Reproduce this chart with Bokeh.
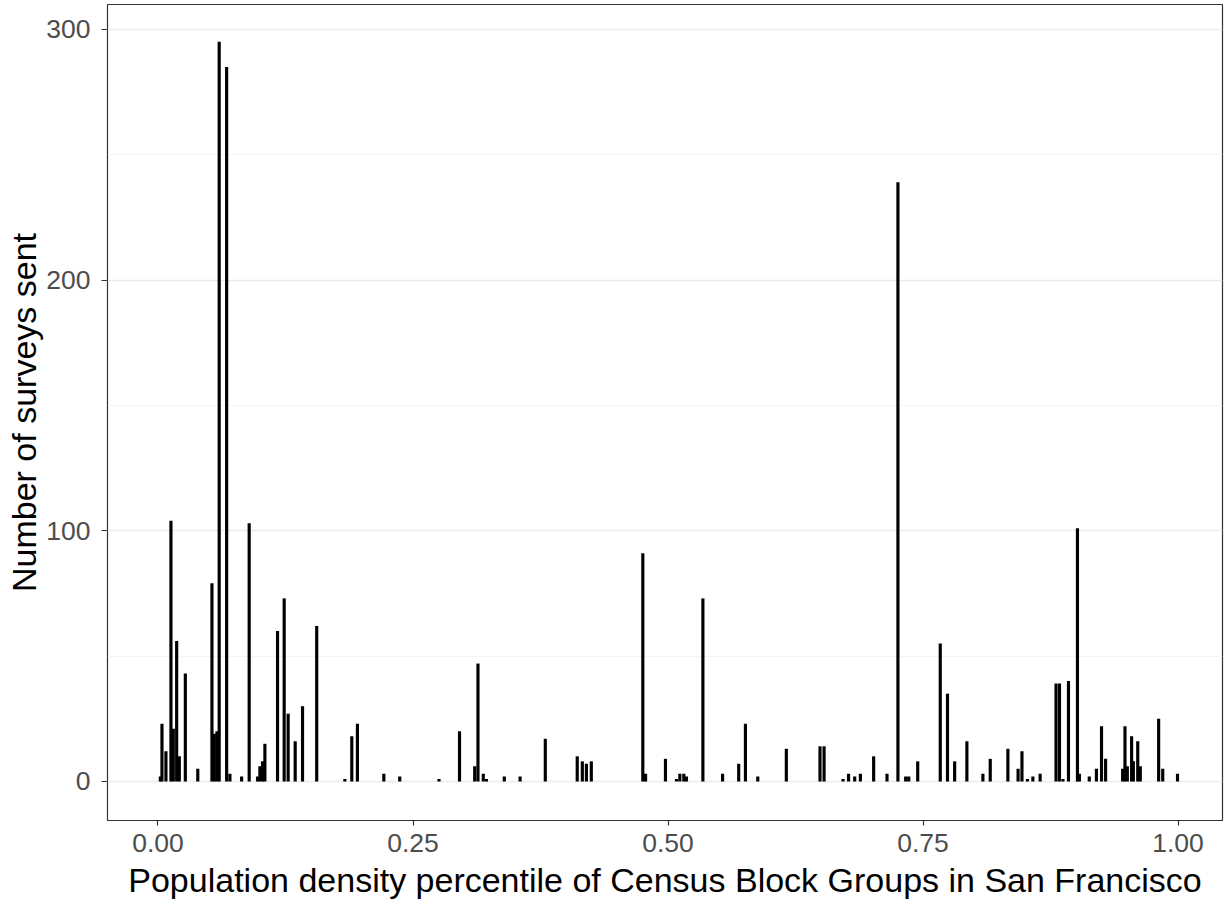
from bokeh.plotting import figure
from bokeh.models import Range1d, FixedTicker, ColumnDataSource
from bokeh.embed import file_html
from bokeh.resources import INLINE

# Population density percentile of each block group (x) and surveys sent (bar height)
percentile = [
    0.0023, 0.0039, 0.0078, 0.0127, 0.0150, 0.0183, 0.0209, 0.0268, 0.0390,
    0.0529, 0.0552, 0.0578, 0.0600, 0.0673, 0.0705, 0.0820, 0.0894, 0.0976,
    0.0999, 0.1025, 0.1048, 0.1172, 0.1237, 0.1276, 0.1345, 0.1417, 0.1556,
    0.1832, 0.1900, 0.1955, 0.2214, 0.2370, 0.2755, 0.2956, 0.3105, 0.3137,
    0.3189, 0.3220, 0.3395, 0.3550, 0.3797, 0.4110, 0.4160, 0.4200, 0.4248,
    0.4753, 0.4780, 0.4975, 0.5083, 0.5116, 0.5155, 0.5181, 0.5342, 0.5535,
    0.5693, 0.5759, 0.5880, 0.6160, 0.6490, 0.6530, 0.6716, 0.6770, 0.6830,
    0.6886, 0.7016, 0.7147, 0.7254, 0.7330, 0.7360, 0.7448, 0.7669, 0.7740,
    0.7810, 0.7930, 0.8087, 0.8159, 0.8332, 0.8432, 0.8470, 0.8524, 0.8577,
    0.8648, 0.8804, 0.8838, 0.8872, 0.8926, 0.9014, 0.9033, 0.9130, 0.9200,
    0.9250, 0.9290, 0.9457, 0.9480, 0.9503, 0.9545, 0.9562, 0.9605, 0.9630,
    0.9810, 0.9850, 0.9995,
]
surveys = [
    2, 23, 12, 104, 21, 56, 10, 43, 5,
    79, 19, 20, 295, 285, 3, 2, 103, 2,
    6, 8, 15, 60, 73, 27, 16, 30, 62,
    1, 18, 23, 3, 2, 1, 20, 6, 47,
    3, 1, 2, 2, 17, 10, 8, 7, 8,
    91, 3, 9, 1, 3, 3, 2, 73, 3,
    7, 23, 2, 13, 14, 14, 1, 3, 2,
    3, 10, 3, 239, 2, 2, 8, 55, 35,
    8, 16, 3, 9, 13, 5, 12, 1, 2,
    3, 39, 39, 1, 40, 101, 3, 2, 5,
    22, 9, 5, 22, 6, 18, 8, 16, 6,
    25, 5, 3,
]

x_ticks = [0.0, 0.25, 0.5, 0.75, 1.0]
x_tick_labels = ["0.00", "0.25", "0.50", "0.75", "1.00"]
y_ticks = [0, 100, 200, 300]
y_minor_ticks = [50, 150, 250]

x_title = "Population density percentile of Census Block Groups in San Francisco"
y_title = "Number of surveys sent"

src = ColumnDataSource(dict(x=percentile, top=surveys))

FONT = "Liberation Sans"

p = figure(
    width=1228, height=912,
    output_backend="svg", toolbar_location=None,
    x_range=Range1d(-0.0495, 1.0436), y_range=Range1d(-15.6, 309.9),
    min_border_left=107, min_border_right=6, min_border_top=4, min_border_bottom=92,
)

p.vbar(x="x", top="top", bottom=0, width=0.0031, source=src,
       fill_color="black", line_color=None)

p.background_fill_color = "white"
p.border_fill_color = "white"
p.outline_line_color = "#333333"
p.outline_line_width = 1.2

# grids
p.xgrid.grid_line_color = None
p.ygrid.grid_line_color = "#EBEBEB"
p.ygrid.grid_line_width = 1.3
p.ygrid.minor_grid_line_color = "#F0F0F0"
p.ygrid.minor_grid_line_width = 0.8

# x axis
p.xaxis.ticker = FixedTicker(ticks=x_ticks)
p.xaxis.major_label_overrides = {t: l for t, l in zip(x_ticks, x_tick_labels)}
p.xaxis.axis_label = x_title
p.xaxis.axis_label_text_font = FONT
p.xaxis.axis_label_text_font_size = "34px"
p.xaxis.axis_label_text_font_style = "normal"
p.xaxis.axis_label_text_color = "black"
p.xaxis.axis_label_standoff = 6
p.xaxis.major_label_text_font = FONT
p.xaxis.major_label_text_font_size = "26.5px"
p.xaxis.major_label_text_color = "#4D4D4D"
p.xaxis.major_label_standoff = 8
p.xaxis.major_tick_out = 5
p.xaxis.major_tick_in = 0
p.xaxis.minor_tick_line_color = None
p.xaxis.major_tick_line_color = "#333333"
p.xaxis.major_tick_line_width = 1.2
p.xaxis.axis_line_color = None

# y axis
p.yaxis.ticker = FixedTicker(ticks=y_ticks, minor_ticks=y_minor_ticks)
p.yaxis.axis_label = y_title
p.yaxis.axis_label_text_font = FONT
p.yaxis.axis_label_text_font_size = "34px"
p.yaxis.axis_label_text_font_style = "normal"
p.yaxis.axis_label_text_color = "black"
p.yaxis.axis_label_standoff = 0
p.yaxis.major_label_text_font = FONT
p.yaxis.major_label_text_font_size = "26.5px"
p.yaxis.major_label_text_color = "#4D4D4D"
p.yaxis.major_label_standoff = 11
p.yaxis.major_tick_out = 6
p.yaxis.major_tick_in = 0
p.yaxis.minor_tick_line_color = None
p.yaxis.major_tick_line_color = "#333333"
p.yaxis.major_tick_line_width = 1.2
p.yaxis.axis_line_color = None

open("out.html", "w").write(file_html(p, INLINE))
